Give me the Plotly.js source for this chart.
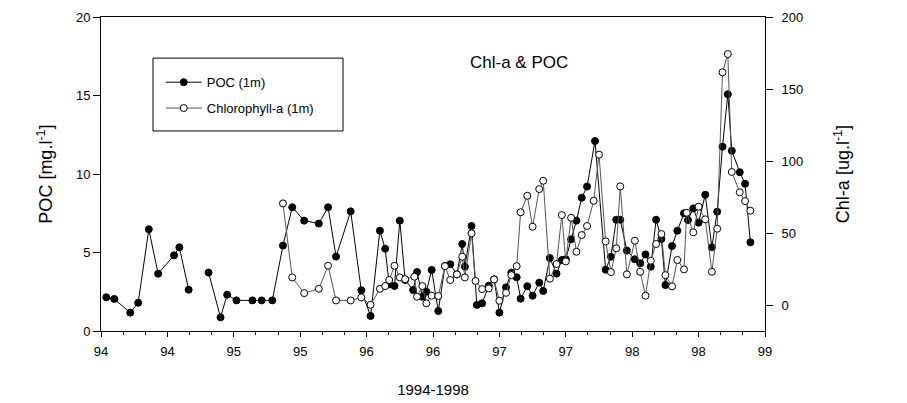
<!DOCTYPE html>
<html>
<head>
<meta charset="utf-8">
<script src="https://cdn.plot.ly/plotly-3.0.1.min.js"></script>
<style>html,body{margin:0;padding:0;background:#fff;}#chart{width:907px;height:403px;}</style>
</head>
<body>
<div id="chart"></div>
<script>
// POC (1m), decimal year (yy.frac) and mg/l; null marks the data gap
var pocTime = [94.04,94.10,94.22,94.28,94.36,94.43,94.55,94.59,94.66,94.75,94.81,94.90,94.95,95.02,95.14,95.21,95.29,
  95.37,95.44,95.53,95.64,95.71,95.77,95.88,95.96,96.03,96.10,96.14,96.17,96.21,96.25,96.29,96.35,96.38,96.42,96.45,
  96.49,96.54,96.59,96.63,96.68,96.72,96.74,96.79,96.83,96.87,96.92,96.96,97.00,97.05,97.09,97.13,97.16,97.21,97.25,
  97.30,97.33,97.38,97.43,97.47,97.50,97.54,97.58,97.62,97.66,97.72,97.80,97.84,97.88,97.91,97.96,98.02,98.06,98.10,
  98.14,98.18,98.22,98.25,98.30,98.34,98.39,98.42,98.46,98.50,98.55,98.60,98.64,98.68,98.72,98.75,98.81,98.85,98.89];
var pocValues = [2.15,2.04,1.17,1.8,6.48,3.65,4.82,5.33,2.63,null,3.72,0.87,2.31,1.95,1.95,1.95,1.95,
  5.44,7.88,7.03,6.84,7.88,4.74,7.62,2.59,0.96,6.39,5.24,2.97,2.87,7.03,3.25,2.61,3.76,2.18,2.5,
  3.89,1.27,4.14,4.25,3.6,5.54,4.1,6.69,1.66,1.76,2.89,3.29,1.17,2.78,3.72,3.42,2.06,2.85,2.25,
  3.08,2.55,4.65,3.65,4.52,4.57,5.84,7.03,8.49,9.2,12.1,3.9,4.73,7.09,7.09,5.12,4.57,4.31,4.88,
  4.1,7.09,5.86,2.93,5.41,6.39,7.5,7.07,7.81,6.9,8.68,5.33,7.6,11.74,15.08,11.48,10.11,9.38,5.65];

// Chlorophyll-a (1m), decimal year and ug/l
var chlTime = [95.37,95.44,95.53,95.64,95.71,95.77,95.88,95.96,96.03,96.10,96.14,96.17,96.21,96.25,96.29,96.36,
  96.38,96.42,96.45,96.49,96.54,96.59,96.63,96.68,96.72,96.74,96.79,96.82,96.87,96.92,96.96,97.00,97.05,97.09,
  97.13,97.16,97.21,97.25,97.30,97.33,97.38,97.43,97.47,97.50,97.54,97.58,97.62,97.66,97.71,97.75,97.80,97.84,
  97.88,97.91,97.96,98.02,98.06,98.10,98.14,98.18,98.22,98.25,98.30,98.34,98.39,98.41,98.46,98.50,98.55,98.60,
  98.64,98.68,98.72,98.75,98.81,98.85,98.89];
var chlValues = [70.6,19.2,8.3,11.3,27.3,3.2,3.2,5.3,0.2,11.3,13.2,17.4,27.3,19.2,18,19.7,
  5.8,13.2,1.2,6.5,6.3,27,17.4,21.3,33.6,19.2,49.8,16.7,11.1,11.6,17.8,3,8.5,20.8,
  27,64.4,75.9,54.4,80.5,86.3,18.3,28.5,62.5,30.3,60.6,37,48.6,54.9,72.4,104.4,44.2,22.9,
  39.4,82.4,21.3,44.7,23.1,6.5,30.8,42.4,49.3,20.8,13,31.3,24.8,64.1,50.5,68.3,59.5,23.1,
  53,161.6,174.3,92.4,78.3,72.2,65.5];

// x tick positions (half-year) and their labels (two-digit year)
var xTickVals = [94,94.5,95,95.5,96,96.5,97,97.5,98,98.5,99];
var xTickText = ["94","94","95","95","96","96","97","97","98","98","99"];
var pocTicks = [0,5,10,15,20];
var chlTicks = [0,50,100,150,200];

var FONT = "Liberation Sans, Arial, sans-serif";

var traces = [
  {
    x: pocTime, y: pocValues, name: "POC (1m)", type: "scatter", mode: "lines+markers",
    yaxis: "y", connectgaps: false, legendgroup: "poc",
    line: {color: "#000", width: 1},
    marker: {symbol: "circle", size: 7, color: "#000", line: {color: "#000", width: 1}}
  },
  {
    x: chlTime, y: chlValues, name: "Chlorophyll-a (1m)", type: "scatter", mode: "lines+markers",
    yaxis: "y2", legendgroup: "chl",
    line: {color: "#555", width: 1},
    marker: {symbol: "circle", size: 7, color: "#fff", line: {color: "#000", width: 1}}
  }
];

var layout = {
  width: 907, height: 403,
  margin: {l: 101, r: 142, t: 17, b: 72},
  paper_bgcolor: "#fff", plot_bgcolor: "#fff",
  font: {family: FONT, size: 13, color: "#000"},
  showlegend: true,
  legend: {
    x: 0.090, y: 0.84, xanchor: "left", yanchor: "top",
    borderwidth: 0, bgcolor: "rgba(0,0,0,0)",
    font: {family: FONT, size: 13, color: "#000"},
    traceorder: "grouped", tracegroupgap: 6, itemwidth: 36
  },
  shapes: [{
    type: "rect", xref: "paper", yref: "paper",
    x0: 0.0783, x1: 0.3645, y0: 0.637, y1: 0.869,
    line: {color: "#000", width: 1}, fillcolor: "rgba(0,0,0,0)", layer: "below"
  }],
  xaxis: {
    range: [94, 99], tickmode: "array", tickvals: xTickVals, ticktext: xTickText,
    showline: true, linecolor: "#000", linewidth: 1, mirror: true,
    ticks: "outside", ticklen: 5, tickcolor: "#000", ticklabelstandoff: 3,
    showgrid: false, zeroline: false,
    tickfont: {family: FONT, size: 13},
    minor: {tickmode: "linear", tick0: 94, dtick: 1/6, ticks: "outside", ticklen: 3, tickcolor: "#000", showgrid: false},
    title: {text: "1994-1998", font: {family: FONT, size: 15}, standoff: 26}
  },
  yaxis: {
    range: [0, 20], tickmode: "array", tickvals: pocTicks,
    showline: true, linecolor: "#000", linewidth: 1,
    ticks: "outside", ticklen: 7, tickcolor: "#000",
    showgrid: false, zeroline: false,
    tickfont: {family: FONT, size: 13},
    title: {text: "POC [mg.l<sup>-1</sup>]", font: {family: FONT, size: 18}, standoff: 18}
  },
  yaxis2: {
    range: [-18, 200], overlaying: "y", side: "right", tickmode: "array", tickvals: chlTicks,
    showline: true, linecolor: "#000", linewidth: 1,
    ticks: "outside", ticklen: 7, tickcolor: "#000", ticklabelstandoff: 6,
    showgrid: false, zeroline: false,
    tickfont: {family: FONT, size: 13},
    title: {text: "Chl-a [ug.l<sup>-1</sup>]", font: {family: FONT, size: 18}, standoff: 34}
  },
  annotations: [{
    text: "Chl-a & POC", xref: "paper", yref: "paper", x: 0.63, y: 0.855,
    xanchor: "center", yanchor: "middle", showarrow: false,
    font: {family: FONT, size: 17, color: "#000"}
  }]
};

Plotly.newPlot("chart", traces, layout, {displayModeBar: false, staticPlot: true});
</script>
</body>
</html>
